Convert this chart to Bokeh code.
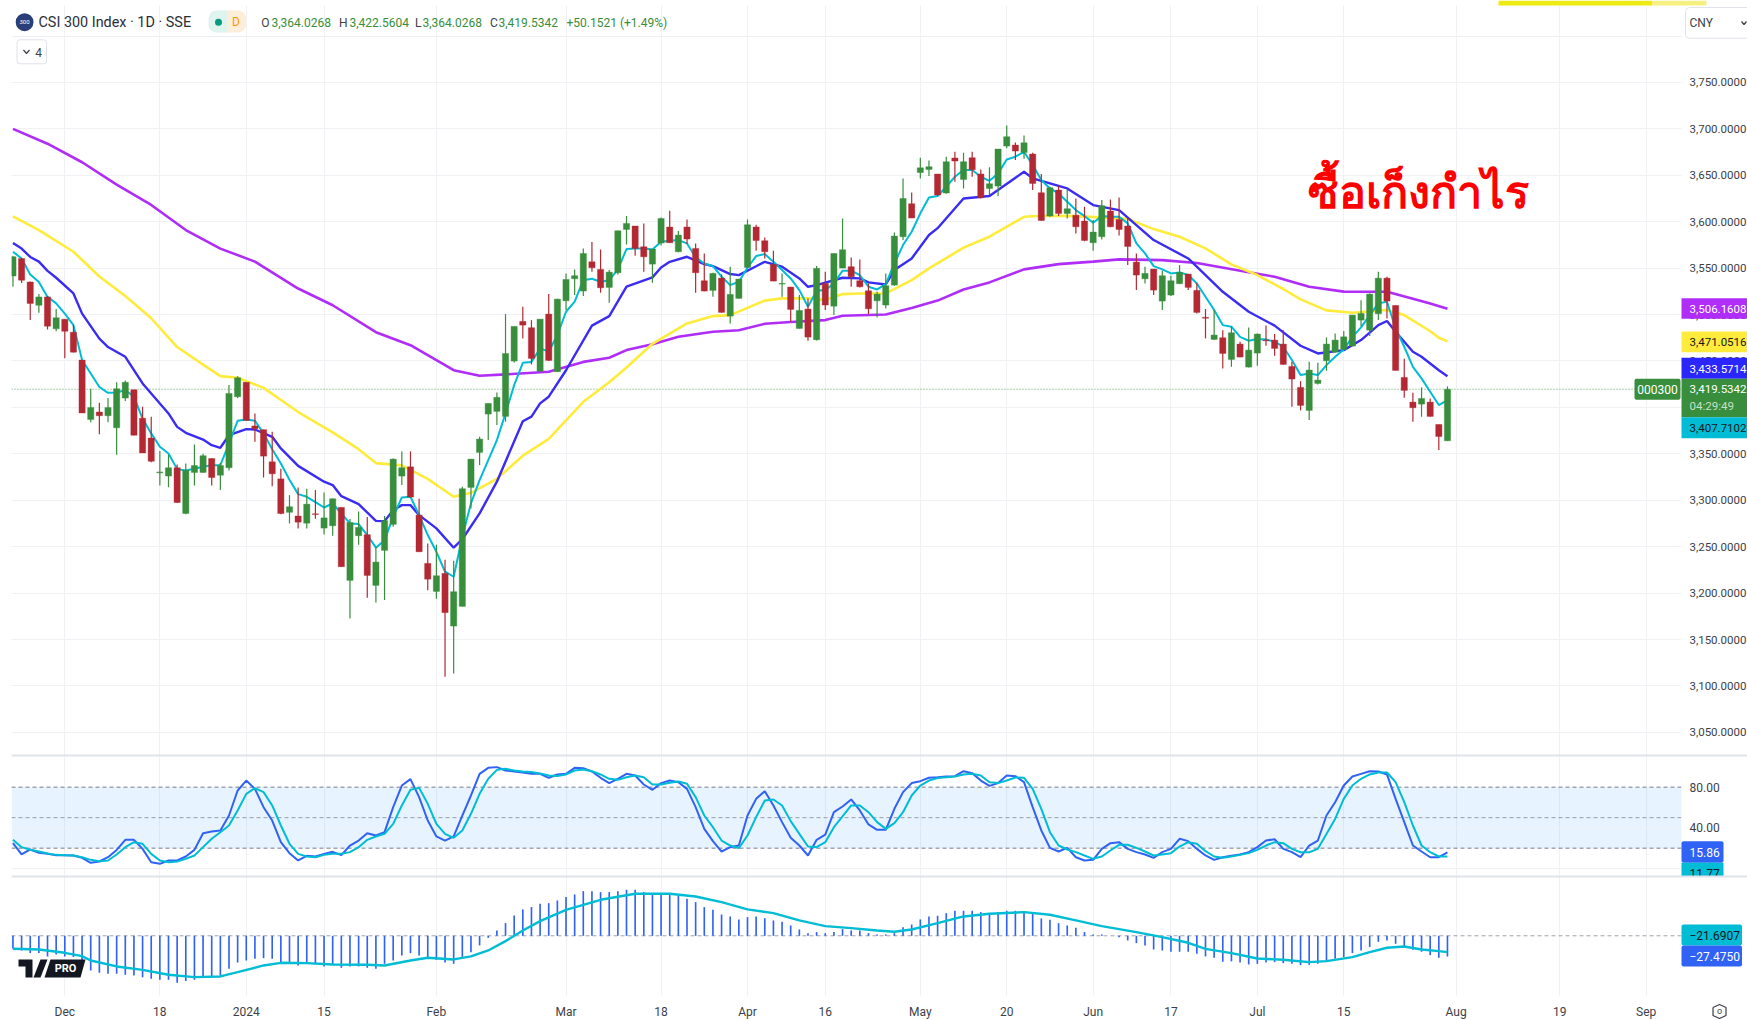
from bokeh.plotting import figure
from bokeh.embed import file_html
from bokeh.resources import INLINE
from bokeh.models import (Range1d, LinearAxis, FixedTicker, NumeralTickFormatter, Label, BoxAnnotation,
                          Span, Grid)

# ---------- candles (price) ----------
opens = [3541.4,3560.4,3535,3510,3519,3484.6,3495,3481,3451,3387,3395,3391,3378,3410,3419,3388.4,3367,3329.5,3326,3335,
3285.7,3330,3330,3345,3327,3335,3411.4,3427,3380,3376,3341.4,3323,3287,3283,3275.3,3285.4,3270,3272.5,3292.3,3213.7,
3261.8,3262.9,3208.3,3246,3274,3326,3336,3284,3232,3201.8,3221.2,3164.5,3185.7,3313.8,3351.5,3392.8,3395.7,3390.3,3449.9,3492.6,
3485.8,3439,3500.5,3438.4,3514.8,3538.5,3525.3,3556.8,3548.6,3529.2,3545,3591.7,3595.3,3573,3554.3,3577,3594.2,3567.6,3594.2,3571.2,
3536.4,3526,3539.3,3498.3,3517.4,3550.7,3594.2,3579.5,3554,3532.8,3529.6,3485,3505.9,3472.8,3533.5,3509,3550,3551.5,3536.4,3525.6,
3514.8,3510.2,3531.7,3583.8,3619.3,3653,3656.3,3651.3,3630.8,3668.5,3645.5,3668.9,3651.3,3635.8,3638.3,3681.4,3682.5,3674.6,3672.8,3631.2,
3606,3634,3608.9,3607,3600.6,3577.3,3583.8,3611.4,3602.4,3595.3,3556.5,3538.5,3549,3514.5,3521,3533.2,3543.6,3526,3497,3473.2,
3475,3451.6,3468.2,3443.4,3458.5,3472.5,3472.5,3468.2,3444.1,3421.5,3396.7,3425.8,3450.2,3459.5,3462.4,3466,3494,3483.2,3500.8,3539.2,
3509.8,3432.3,3405.7,3403.5,3405.7,3381.6,3364.0268]
highs = [3563,3561,3535.5,3522,3520,3506,3495,3488.6,3451,3420,3405,3410,3427,3429,3419,3400.6,3390,3353,3348.6,3338.5,
3339.6,3360,3350,3345.3,3340,3424,3433.6,3427,3393.5,3376,3373.7,3334,3305.5,3313.8,3312.3,3310.9,3308.4,3302,3292.3,3279.7,
3288,3282,3250,3283,3345,3352.6,3352.6,3301.6,3253.5,3252,3236,3234.8,3314.5,3344.5,3368.4,3404.3,3416,3500.5,3487.2,3508.4,
3494,3495.1,3522,3517,3544.3,3548.6,3571.2,3578,3570.1,3547.9,3590.2,3606,3595.3,3598.1,3570.5,3604.6,3611.8,3589.9,3602.4,3576.6,
3565.8,3545,3543.2,3551.5,3538.2,3602.4,3596.7,3583,3568.7,3544.3,3529.6,3521,3517.4,3552.2,3546.1,3566,3603.5,3561.5,3559.4,3533.5,
3524.5,3544.3,3588.4,3646.6,3631.5,3668.9,3666,3651.3,3669.9,3675.3,3674.2,3675.3,3656.3,3658.5,3678.2,3703.7,3685.4,3692.9,3674.2,3651.3,
3637.6,3638.3,3634,3625,3616,3601.7,3623.3,3624,3626,3605.3,3565.8,3551.5,3549,3547.2,3541.8,3553.3,3543.6,3534.2,3505.9,3504.8,
3483.2,3487.5,3470.7,3486.1,3479.6,3488.3,3478.9,3483.2,3449.1,3428.3,3449.1,3448,3475.3,3479.6,3482.2,3499.4,3515.5,3522.7,3546,3540.7,
3509.8,3452.4,3415.7,3421.5,3409.6,3381.6,3422.5604]
lows = [3530,3534,3494,3502,3484,3482,3453,3459,3394,3384,3371,3384,3349,3407,3370,3351,3341,3316,3314,3297,
3285,3316,3330,3316,3311,3332,3410,3386,3363,3324.5,3315,3285,3275,3269.6,3269.6,3280,3263.2,3261.8,3228,3172.7,
3252,3195,3190,3192.5,3271.5,3316.3,3303,3244.5,3203,3194,3110,3113.5,3185.5,3291.2,3337.9,3364.8,3381,3384.6,3448.4,3474.3,
3446.3,3438.4,3450,3438,3504.8,3521,3519.9,3546.1,3523.5,3512.7,3543.2,3575.5,3563.3,3546.1,3534.2,3574.4,3577,3567,3575.9,3523.5,
3525,3519.2,3502,3490.4,3517,3550,3568.7,3560.4,3536,3519.2,3492.2,3485,3471.8,3472,3504.8,3499.4,3550,3529.9,3529,3500.5,
3496.9,3506.6,3531,3580.2,3604,3646.6,3649.1,3628,3630,3643,3635.8,3648.4,3625,3628.7,3627.6,3679,3666.3,3667.8,3634,3601,
3605.3,3606,3603.5,3587.4,3579,3568.7,3580.9,3594,3585.2,3553.3,3526.3,3533.5,3521,3504.8,3520,3533,3526.3,3501.2,3474.3,3472.5,
3441.9,3443.7,3454,3443,3444.8,3466.4,3455.6,3446,3400.7,3396.7,3386.3,3424.7,3439.4,3459,3462,3466,3487.5,3476.8,3494,3495.8,
3439.8,3410.4,3384.5,3389.9,3390,3354,3364.0268]
closes = [3562.2,3537,3512,3519,3487.5,3496.5,3482,3459.5,3394,3400,3391,3400,3420,3427,3370,3351,3342,3330.5,3335,3297.6,
3332.4,3337.4,3348,3324.5,3337.5,3415,3432,3386,3377,3347.5,3328.5,3285.7,3293,3276.4,3295.8,3284.7,3281,3301.6,3228.4,3276,
3270.8,3219,3233.4,3278,3344.3,3335,3303.4,3244.5,3215,3218.7,3179,3201.5,3312.4,3344.3,3365.9,3404.3,3410.8,3458,3487.2,3488.6,
3452.7,3495,3450.6,3516.6,3537.8,3541.8,3565.8,3550.4,3528.8,3545.7,3590.2,3598.1,3571.2,3562.2,3570.5,3603.5,3577.3,3585.6,3581.3,3545,
3525.3,3544.3,3502.3,3521.7,3538.2,3596.7,3579.8,3567.6,3536,3533.5,3505.5,3504.4,3475.7,3549.7,3510.2,3565.8,3569.8,3540.7,3529.9,3506.2,
3522,3531,3584.5,3625,3603.9,3658,3659.2,3628.7,3664.6,3665.3,3664.6,3656,3625.8,3640.9,3678.2,3691.5,3676,3685,3641.2,3601.4,
3636.6,3608.9,3614,3594.5,3579.8,3588.8,3617.2,3594.5,3591.7,3573.4,3542.5,3544.3,3526.3,3541.8,3536.4,3545.4,3529.2,3502.3,3496,3477.9,
3458.1,3480.4,3454.2,3461.7,3479,3471.8,3463.5,3446.3,3430.5,3402.1,3440.2,3429.4,3468.2,3472.5,3476,3499.4,3501.2,3522,3539.2,3514.5,
3439.8,3418.3,3399.6,3409.6,3390.3,3368.7,3419.5342]

# ---------- moving averages: bar number, value read at that bar ----------
teal_ma = [3567.6,3560.4,3543,3535,3519,3512,3501,3488.6,3451,3436.5,3422,3415.7,3416,3418.6,3411.4,3388,3372,3357.6,3350.4,3333.5,
3332,3334,3336,3337.8,3337.8,3361,3385.6,3387,3385.6,3372,3355,3339.6,3322,3306.6,3303.7,3298,3292.2,3296.5,3285.7,3275,
3274.3,3262.5,3248.9,3257,3282,3303,3303.8,3284,3262.5,3244.5,3223,3217.6,3260.7,3296.6,3321.7,3343.3,3364.8,3393.5,3424,3448,
3449,3463.5,3460,3477.9,3503,3513.8,3537,3538.5,3535.3,3537,3548.6,3570.5,3571.2,3571.2,3570,3578.4,3579.5,3580.2,3576.6,3561.5,
3555,3552.2,3540.7,3531.7,3535.3,3550.4,3563,3565.1,3556.8,3547.9,3538.9,3526.3,3508.4,3525.6,3526.3,3533.5,3547.2,3547.2,3542.5,3529.9,
3527,3532.8,3555,3574.8,3589.2,3609,3626,3627.6,3637.6,3648.4,3655.6,3655.6,3648.4,3644,3652,3667,3670,3675.3,3661,3644.8,
3635.8,3630.4,3621.5,3612.5,3606,3598.9,3606,3605.3,3605.3,3598.2,3576.6,3565.8,3552.2,3548.6,3544.3,3545.4,3542.5,3533.5,3519.2,3504.8,
3488.6,3486.9,3476,3471.8,3473.6,3473.2,3470.7,3465.3,3451,3434.8,3436.6,3434.8,3445.5,3454.5,3462.4,3476,3486.1,3499.4,3512,3513.8,
3485,3465.3,3443.7,3431.2,3416.8,3402.5,3407.7102]
blue_ma_bar = [0,1,2,3,4,5,7,8,10,11,13,15,17,18,19,20,22,23,24,25,27,28,30,31,33,36,37,38,40,42,43,44,45,46,47,49,51,52,54,56,59,60,61,62,64,67,69,71,74,75,76,78,80,81,83,84,86,87,89,91,92,93,96,98,99,101,102,104,106,107,110,113,117,118,122,125,128,132,136,140,143,146,149,151,154,156,158,159,160,162,163,165,166]
blue_ma = [3577,3571,3562,3557,3547,3539.6,3522.7,3501,3474,3465,3454.5,3425.8,3404.2,3393.5,3379,3372.6,3365.4,3359.3,3356.5,3370,3376.6,3376.2,3368.3,3355.8,3337,3320,3316.3,3304.4,3295.8,3277.8,3277.5,3289.3,3294.7,3294.7,3284,3269.7,3248.9,3258,3285.8,3320,3385,3390,3404.3,3411.5,3440,3488,3498.3,3530,3540,3550.7,3556.8,3562.2,3554.3,3552.2,3543.6,3542.5,3552,3556.8,3551.5,3538.9,3529.9,3531.7,3539.6,3538.9,3534.6,3532.4,3547.9,3560.4,3585.6,3593,3625,3627.6,3653.8,3646.6,3635.8,3617.9,3612.5,3580.2,3560.4,3524.5,3503,3488,3466.4,3458.1,3461.7,3472.5,3488.6,3493,3481.4,3460,3454.5,3440,3433.5714]
yellow_ma_bar = [0,3,7,10,13,16,19,22,24,26,29,33,37,40,42,45,48,51,53,56,59,62,66,69,71,74,78,81,83,87,89,92,94,96,98,101,104,106,110,113,117,119,123,129,132,135,138,141,144,147,149,152,155,159,161,164,165,166]
yellow_ma = [3605.7,3591,3567.6,3541,3520,3496,3465,3446,3433.7,3432,3421,3395,3373,3355,3340,3337.5,3323,3303.8,3308,3323,3348,3366,3406,3427,3443,3468.5,3490.4,3498.3,3499.4,3515,3517.4,3517.4,3515.6,3522,3522.7,3522.7,3537,3549.7,3572,3583.8,3605.3,3606.4,3606,3603,3592,3583.8,3571.2,3554,3542.5,3527.5,3516.3,3504.5,3501.9,3504.8,3499.4,3482,3475,3471.0516]
purple_ma_bar = [0,4,8,12,16,20,24,28,33,37,42,46,51,54,57,62,66,69,71,74,77,81,84,87,90,94,96,101,104,107,110,113,117,121,125,128,133,137,143,146,150,154,157,159,162,164,166]
purple_ma = [3700,3684,3664,3640,3618,3591,3571,3557,3528,3510,3481,3467,3440,3434,3435.5,3438.4,3449,3453.5,3461.7,3468,3476,3481.5,3483,3490,3492,3494,3498.7,3500,3507,3515,3527,3534.6,3548.6,3554.3,3557,3559.4,3558.6,3555.5,3545.5,3540.7,3530,3524.7,3524.5,3524.5,3517,3512,3506.1608]

# ---------- stochastic ----------
stoch_k = [24.9,13.8,18.7,15.4,14.4,13.1,13,12.8,10.5,5.6,6.9,11.1,18.3,28.2,28.2,19.3,6.2,4.6,7.9,7.9,
11.8,18.3,34.7,36.4,37.4,52.1,76.7,86.5,78.3,60.3,47.2,25.9,15.1,7.9,12.5,11.8,14.4,16.4,13.1,22.6,
27.5,34.7,32.5,35.7,60.3,81.6,87.9,70.2,47.2,31.5,27.5,31.5,52.1,71.8,93.1,99,99.7,96.4,95.4,94.4,
93.1,93.1,89.2,92.5,93.1,99,98.7,95.4,89.2,84,88.2,93.1,91.5,82.6,77.4,84,86.5,84.9,78.3,60.3,
39,26.9,16.7,21,22.6,52.1,68.5,76,62,45.6,30.2,22.6,12.8,28.2,33.4,55.4,61,67.9,57.1,43.3,
38,38,58.7,75.1,84,85.9,89.2,89.8,90.5,90.8,95.7,93.8,86.5,81.3,84,91.5,90.8,84.9,60.3,37.4,
20.3,16.7,20.3,11.1,7.9,8.5,19.3,24.9,25.9,19.3,16.1,13.8,10.5,16.1,19.3,29.2,26.9,19.3,12.8,8.5,
11.1,12.5,13.8,16.1,21,27.5,28.8,19.3,16.1,11.1,22.6,27.5,52.1,65.2,81.6,90.5,93.1,95.7,95.4,92.5,
68.5,45.6,22.6,16.7,11.1,11.1,15.86]
stoch_d = [28.2,21,18.5,16.7,14.8,13.4,13,12.8,11.1,8.5,7.2,7.9,13.8,21,25.9,24.3,14.4,7.9,6.2,6.9,
9.5,12.8,21,29.2,35.7,42.3,57.1,73.4,79,75.1,62,42.3,24.3,14.4,11.8,11.1,13.4,14.4,14.4,16.1,
21,28.2,31.5,34.1,43.9,62,77.4,79.3,63.6,43.9,34.1,30.2,37.4,53.8,73.4,88.2,97,98,96.4,95.5,
94.8,93.5,91.5,91,92.5,96.4,97.4,95.7,92.5,88.2,87.2,89.8,91.5,89.8,82.6,82.6,84.3,85.6,83.3,70.2,
52.1,40.6,27.5,22.6,20,32.5,50.5,66.9,67.9,62,46.6,34.1,21.6,21,25.9,40.6,51.2,62,62,55.4,
45.6,39,44.6,55.4,71.8,81.6,86.5,88.9,89.8,90.5,92.5,93.1,91.5,84.9,84,86.5,89.5,89.2,78.3,58.7,
35.7,22.6,18.7,16.1,12.8,9.5,11.8,17.7,23.3,23.3,20.3,16.7,12.8,13.8,15.1,21.6,25.9,24.3,17,11.8,
10.5,11.8,13.4,15.1,18.3,22.6,25.9,24.9,19.3,16,16,19.3,34,48.8,68.5,81.6,88.2,92.5,94.4,94.4,
84.9,65.2,42.3,22.6,16,11.8,11.77]

# ---------- MACD ----------
macd_hist = [-17.3,-19.5,-23,-23,-27.4,-24.8,-27.4,-28.3,-32.8,-46,-49.1,-50.5,-50.5,-51.8,-52.7,-54.9,-57.1,-58.4,-58.4,-62.4,
-60.2,-58.4,-55.8,-54.9,-53.1,-43.8,-35.4,-32.8,-30.5,-29.7,-30.5,-35,-37.2,-39.4,-37.2,-37.2,-40.7,-38.1,-42.5,-40.7,
-40.7,-42.5,-43.8,-37.2,-32.8,-26.1,-23,-26.1,-28.3,-31.9,-35.4,-37.2,-30.5,-21.7,-12.8,-2.7,7.1,16.8,27,35,
38.1,42.5,43.4,46.9,51.4,54.9,59.3,59.3,58,58,59.3,61.1,61.1,58,55.8,54.9,54.9,53.1,49.1,44.7,
38.1,34.5,28.3,25.7,21.7,24.8,25.7,23.4,20.4,18.6,13.7,8.4,3.5,4.9,3.5,4.9,8.9,7.1,7.1,3.5,
1.8,1.8,3.5,11.5,15,21.7,25.7,26.6,30.1,33.2,33.2,33.2,31.4,29.2,31.4,33.2,33.2,30.5,29.2,23,
21.2,16.8,13.7,10.6,4.9,1.8,1.8,0,-1.8,-6.2,-9.7,-12.8,-18.2,-19.5,-21.2,-21.2,-21.2,-23.9,-27.4,-29.2,
-34.5,-34,-35.4,-38.1,-37.2,-35.4,-35,-36.3,-37.2,-39,-38.5,-37.2,-33.6,-30.5,-28.3,-23,-19.5,-15,-8,-6.2,
-10.6,-15.9,-18.6,-21.2,-25.7,-29.2,-27.475]
macd_signal_bar = [0,3,6,8,9,12,15,18,21,24,26,29,31,34,37,41,43,46,48,51,53,55,57,59,61,64,68,72,76,79,82,85,88,91,94,97,100,102,104,107,110,113,117,120,123,126,130,133,136,138,141,144,147,150,152,155,157,159,161,163,165,166]
macd_signal = [-17.3,-18.2,-22.6,-27,-32.8,-40.7,-45.2,-51.8,-54.9,-54,-48.3,-39.4,-35.9,-36.3,-38.1,-38.5,-39.4,-32.8,-29.2,-31.4,-27.4,-19.5,-7.1,7.1,19.5,34.5,47.8,55.8,55.8,52.2,44.7,35,30.1,20.4,12.8,10.2,7.1,5.3,8.4,16.8,25.7,29.2,31.4,27.9,20.4,12.8,4.9,-1.8,-9.3,-17.3,-23,-30.1,-31.9,-35,-33.6,-28.3,-21.7,-15.9,-14.2,-18.2,-20.4,-21.6907]

# ---------- axis labels ----------
price_ticks = [3050,3100,3150,3200,3250,3300,3350,3400,3450,3500,3550,3600,3650,3700,3750]
date_bars = [6,17,27,36,49,64,75,85,94,105,115,125,134,144,154,167,179,189]
date_labels = ["Dec","18","2024","15","Feb","Mar","18","Apr","16","May","20","Jun","17","Jul","15","Aug","19","Sep"]
title_text = "CSI 300 Index · 1D · SSE"
thai_text = "ซื้อเก็งกำไร"

assert all(len(a) == 167 for a in (opens, highs, lows, closes, teal_ma, stoch_k, stoch_d, macd_hist))

FONT = "Roboto"
SCALE_SIZE = "11.5px"
GREEN, RED = "#388e3c", "#b22833"
TEAL, INDIGO, YELLOW, PURPLE = "#00bcd4", "#3a2cf2", "#ffeb3b", "#b02cf7"
OSC_BLUE, GRID, SEP, DARK = "#2f62f5", "#f0f1f4", "#e0e3eb", "#3c3f48"

bars = list(range(167))

# The page has no margin here: the frame spans page x 11..1747, y 0..1020.
p = figure(width=1747, height=1020, output_backend="svg", toolbar_location=None,
           x_range=Range1d(-0.168, 200.72), y_range=Range1d(2739.7, 3838.2),
           min_border_left=11, min_border_right=0, min_border_top=0, min_border_bottom=0,
           x_axis_location=None, y_axis_location=None, outline_line_color=None)
p.grid.grid_line_color = None
p.extra_y_ranges = {"stoch": Range1d(-149.5, 853.7), "macd": Range1d(-112.5, 1242.1), "py": Range1d(1020, 0)}
p.extra_x_ranges = {"px": Range1d(11, 1747)}

p.add_layout(Grid(dimension=0, ticker=FixedTicker(ticks=date_bars), grid_line_color=GRID))
p.add_layout(Grid(dimension=1, ticker=FixedTicker(ticks=price_ticks), grid_line_color=GRID))

price_axis = LinearAxis(fixed_location=193.08, ticker=FixedTicker(ticks=price_ticks),
                        formatter=NumeralTickFormatter(format="0,0.0000"), major_label_standoff=2)
date_axis = LinearAxis(fixed_location=2766.6, ticker=FixedTicker(ticks=date_bars), major_label_standoff=3,
                       major_label_overrides=dict(zip(date_bars, date_labels)))
for ax in (price_axis, date_axis):
    ax.axis_line_color = None
    ax.major_tick_line_color = None
    ax.minor_tick_line_color = None
    ax.major_label_text_font = FONT
    ax.major_label_text_color = DARK
price_axis.major_label_text_font_size = SCALE_SIZE
date_axis.major_label_text_font_size = "12px"
p.add_layout(price_axis, "right")
p.add_layout(date_axis, "below")


def box(left, right, top, bottom, color, alpha=1.0, yr="py", level="annotation", line=None, radius=0):
    b = BoxAnnotation(left=left, right=right, top=top, bottom=bottom, x_range_name="px", y_range_name=yr,
                      fill_color=color, fill_alpha=alpha, line_color=line, line_alpha=1.0, level=level,
                      border_radius=radius)
    p.add_layout(b)
    return b


def text(x, y, s, color=DARK, size=SCALE_SIZE, align="left", yr="py", font=FONT, style="normal", level="annotation"):
    l = Label(x=x, y=y, text=s, x_range_name="px", y_range_name=yr, text_color=color, text_font_size=size,
              text_align=align, text_baseline="middle", text_font=font, text_font_style=style, level=level)
    p.add_layout(l)
    return l


def icon_line(xs, ys):
    p.line(xs, ys, x_range_name="px", y_range_name="py", line_color=DARK, line_width=1.2, level="overlay")


# panel furniture
box(11, 1681, 80, 20, "#2196f3", 0.11, yr="stoch", level="underlay")
for v in (40, 0):
    p.add_layout(Span(location=v, dimension="width", y_range_name="stoch", line_color=GRID, line_width=1, level="underlay"))
for v, a in ((80, 1), (50, 0.7), (20, 1)):
    p.add_layout(Span(location=v, dimension="width", y_range_name="stoch", line_color="#787b86", line_alpha=a,
                      line_width=1, line_dash="4 3", level="underlay"))
p.add_layout(Span(location=0, dimension="width", y_range_name="macd", line_color="#a0a3ac", line_width=1,
                  line_dash="4 3", level="underlay"))
p.add_layout(Span(location=closes[-1], dimension="width", line_color=GREEN, line_alpha=0.8, line_width=1,
                  line_dash="1 2", level="underlay"))
# stop the rules at the scale, and the vertical grid at the date row and under the top edge
box(1681, 1747, 0, 1020, "#ffffff", level="underlay")
box(11, 1747, 995, 1020, "#ffffff", level="underlay")
box(11, 1747, 0, 5, "#ffffff", level="underlay")

# moving averages beneath the candles
p.line(purple_ma_bar, purple_ma, line_color=PURPLE, line_width=2.6)
p.line(yellow_ma_bar, yellow_ma, line_color=YELLOW, line_width=2.6)
p.line(blue_ma_bar, blue_ma, line_color=INDIGO, line_width=2.4)
p.line(bars, teal_ma, line_color=TEAL, line_width=2)

# candles
colors = [GREEN if c >= o else RED for o, c in zip(opens, closes)]
p.segment(bars, lows, bars, highs, line_color=colors, line_width=1.2)
p.vbar(bars, width=0.72, bottom=[min(o, c) for o, c in zip(opens, closes)],
       top=[max(o, c) for o, c in zip(opens, closes)], fill_color=colors, line_color=colors, line_width=0.4)

# oscillators
p.line(bars, stoch_k, y_range_name="stoch", line_color=OSC_BLUE, line_width=2)
p.line(bars, stoch_d, y_range_name="stoch", line_color=TEAL, line_width=2)
p.vbar(bars, width=0.19, bottom=0, top=macd_hist, y_range_name="macd", fill_color=OSC_BLUE, line_color=None)
p.line(macd_signal_bar, macd_signal, y_range_name="macd", line_color=TEAL, line_width=2.4)

# header
box(11, 1681, 36.5, 35.5, "#eceef3")
box(1498, 1652, 5, 0, "#eeea14")
box(1652, 1706, 5, 0, "#f5f080")
box(15.2, 33, 30.7, 12.7, "#2a3f7a", radius=9)
text(24, 21.7, "300", "#ffffff", "6px", "center")
text(38, 22, title_text, "#2a2e39", "14.4px")
box(208, 226.5, 32, 10, "#dff3ef", radius=8)
box(218, 245.6, 32, 10, "#fdeeda", radius=8)
box(218, 226.5, 32, 10, "#dff3ef")
box(214.5, 221.5, 25.2, 18.2, "#089981", radius=4)
text(235.5, 21.7, "D", "#ff9800", "12px", "center")
for x, s, c in ((260.8, "O", DARK), (271, "3,364.0268", GREEN), (338.4, "H", DARK), (349, "3,422.5604", GREEN),
                (414.6, "L", DARK), (422, "3,364.0268", GREEN), (489.4, "C", DARK), (498, "3,419.5342", GREEN),
                (566, "+50.1521 (+1.49%)", GREEN)):
    text(x, 22, s, c, "12px")
box(16.5, 46, 63.3, 39.3, "#ffffff", line=SEP, radius=3)
icon_line([23, 26, 29], [49.5, 53, 49.5])
text(38, 51.5, "4", DARK, "12px", "center")
text(1307, 190, thai_text, "#ff0000", "45px", font="Noto Sans", style="bold")

# CNY selector
box(1685, 1755, 37.7, 7, "#ffffff", line=SEP, radius=4)
text(1689, 22, "CNY", DARK, "12px")
icon_line([1741, 1743.5, 1746], [21, 24, 21])

# price tags on the right-hand scale
tag_prices = [purple_ma[-1], yellow_ma[-1], blue_ma[-1], closes[-1], teal_ma[-1]]
fmt = "{:,.4f}"
box(1681, 1747, 318.3, 297.7, PURPLE)
text(1689, 308, fmt.format(tag_prices[0]), "#ffffff")
box(1681, 1747, 351.7, 331, YELLOW)
text(1689, 341, fmt.format(tag_prices[1]), "#131722")
box(1681, 1747, 378.3, 357.3, "#2b26fb")
text(1689, 368, fmt.format(tag_prices[2]), "#ffffff")
box(1681, 1747, 416.7, 378.3, GREEN)
text(1689, 388, fmt.format(tag_prices[3]), "#ffffff")
text(1689, 405, "04:29:49", "#c7e0c8")
box(1681, 1747, 437.7, 416.7, TEAL)
text(1689, 427, fmt.format(tag_prices[4]), "#131722")
box(1634, 1680, 399.3, 378.3, GREEN, radius=2)
text(1657, 389, "000300", "#ffffff", "12px", "center")

# stochastic scale
text(1689, 786.7, "80.00", size="12px")
text(1689, 827, "40.00", size="12px")
box(1681, 1723, 862.3, 840.7, OSC_BLUE, radius=2)
text(1689, 851.5, f"{stoch_k[-1]:.2f}", "#ffffff", "12px")
box(1681, 1723, 876, 862.3, TEAL)
text(1689, 872.7, f"{stoch_d[-1]:.2f}", "#131722", "12px")
box(1681, 1730, 886, 876.5, "#ffffff")

# MACD scale
box(1681, 1741.5, 945, 924, TEAL, radius=2)
text(1689, 934.5, "\u2212" + f"{abs(macd_signal[-1]):.4f}", "#131722", "12px")
box(1681, 1741.5, 966, 945, OSC_BLUE, radius=2)
text(1689, 955.5, "\u2212" + "27.4750", "#ffffff", "12px")

# panel separators
box(11, 1747, 756, 754, SEP)
box(11, 1747, 877, 875, SEP)

# TradingView mark
LOGO = "#131722"
p.patch([18, 32, 32, 25, 25, 18], [959, 959, 977, 977, 966, 966], x_range_name="px", y_range_name="py",
        fill_color=LOGO, line_color=None, level="annotation")
p.patch([40, 47, 40, 33], [959, 959, 977, 977], x_range_name="px", y_range_name="py",
        fill_color=LOGO, line_color=None, level="annotation")
p.patch([50, 85, 80, 44], [959, 959, 977, 977], x_range_name="px", y_range_name="py",
        fill_color=LOGO, line_color=None, level="annotation")
text(65, 968, "PRO", "#ffffff", "11px", "center", style="bold", level="overlay")

# settings hexagon
icon_line([1712.5, 1719, 1725.5, 1725.5, 1719, 1712.5, 1712.5], [1007, 1004, 1007, 1015, 1018, 1015, 1007])
text(1719, 1010.5, "o", DARK, "9px", "center")

open("out.html", "w").write(file_html(p, INLINE))
